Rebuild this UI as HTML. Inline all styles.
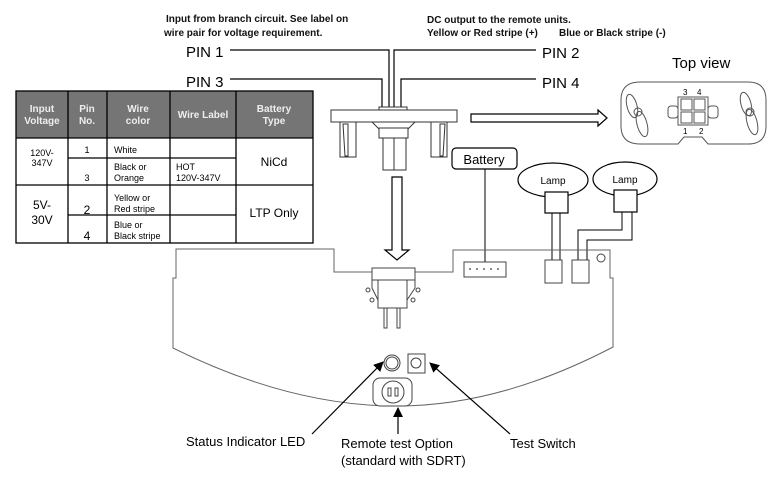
<!DOCTYPE html>
<html><head><meta charset="utf-8"><style>
html,body{margin:0;padding:0;background:#fff;}
svg{display:block;font-family:"Liberation Sans",Arial,sans-serif;}
</style></head><body>
<svg width="776" height="478" viewBox="0 0 776 478" xmlns="http://www.w3.org/2000/svg">
<defs><marker id="ah" markerWidth="10" markerHeight="10" refX="9" refY="5" orient="auto" markerUnits="userSpaceOnUse"><path d="M0,0 L10,5 L0,10 z" fill="#000"/></marker></defs>
<g font-size="10" font-weight="bold" fill="#111">
<text x="166" y="22">Input from branch circuit. See label on</text>
<text x="164" y="36">wire pair for voltage requirement.</text>
<text x="427" y="23">DC output to the remote units.</text>
<text x="427" y="36">Yellow or Red stripe (+)</text>
<text x="559" y="36">Blue or Black stripe (-)</text>
</g>
<g font-size="15" fill="#000">
<text x="186" y="57">PIN 1</text><text x="186" y="87">PIN 3</text>
<text x="542" y="58">PIN 2</text><text x="542" y="88">PIN 4</text>
<text x="672" y="68">Top view</text>
</g>
<g stroke="#000" fill="none" stroke-width="1.2">
<polyline points="230,50 389,50 389,110"/>
<polyline points="230,79 382,79 382,110"/>
<polyline points="536,50 394,50 394,110"/>
<polyline points="536,79 401,79 401,110"/>
</g>
<g stroke="#333" fill="#fff" stroke-width="1">
<rect x="379" y="107" width="28" height="4"/>
<rect x="331" y="110" width="126" height="12"/>
<polygon points="372,122 415,122 408,129 379,129"/>
<rect x="379" y="128" width="29" height="10"/>
<rect x="383" y="138" width="11" height="32"/><rect x="394" y="138" width="12" height="32"/>
<rect x="340" y="122" width="16" height="35"/><polygon points="343,124 348,124 348,156 345,156"/>
<rect x="431" y="122" width="16" height="35"/><polygon points="440,124 445,124 443,156 440,156"/>
</g>
<polygon points="471,114 598,114 598,110 607,118 598,126 598,122 471,122" fill="#fff" stroke="#000" stroke-width="1.2"/>
<polygon points="392,177 402,177 402,250 409,250 397,260 385,250 392,250" fill="#fff" stroke="#000" stroke-width="1.2"/>
<g>
<rect x="16" y="91" width="297" height="47" fill="#757575"/>
<g stroke="#000" stroke-width="1.3" fill="none">
<rect x="16" y="91" width="297" height="152"/>
<line x1="16" y1="138" x2="313" y2="138"/>
<line x1="16" y1="185" x2="313" y2="185"/>
<line x1="68" y1="158" x2="236" y2="158"/>
<line x1="68" y1="215" x2="236" y2="215"/>
<line x1="68" y1="91" x2="68" y2="243"/>
<line x1="107" y1="91" x2="107" y2="243"/>
<line x1="170" y1="91" x2="170" y2="243"/>
<line x1="236" y1="91" x2="236" y2="243"/>
</g>
<g font-size="10" font-weight="bold" fill="#eee" text-anchor="middle">
<text x="42" y="112">Input</text><text x="42" y="124">Voltage</text>
<text x="87" y="112">Pin</text><text x="87" y="124">No.</text>
<text x="138" y="112">Wire</text><text x="138" y="124">color</text>
<text x="203" y="118">Wire Label</text>
<text x="274" y="112">Battery</text><text x="274" y="124">Type</text>
</g>
<g font-size="9" fill="#000">
<text x="42" y="156" text-anchor="middle">120V-</text><text x="42" y="166" text-anchor="middle">347V</text>
<text x="87" y="153" text-anchor="middle">1</text><text x="87" y="181" text-anchor="middle">3</text>
<text x="114" y="153">White</text><text x="114" y="170">Black or</text><text x="114" y="181">Orange</text>
<text x="176" y="170">HOT</text><text x="176" y="181">120V-347V</text>
<text x="114" y="201">Yellow or</text><text x="114" y="212">Red stripe</text>
<text x="114" y="228">Blue or</text><text x="114" y="239">Black stripe</text>
</g>
<g font-size="12" fill="#000" text-anchor="middle">
<text x="274" y="166">NiCd</text><text x="274" y="217">LTP Only</text>
<text x="42" y="209">5V-</text><text x="42" y="224">30V</text>
<text x="87" y="214">2</text><text x="87" y="240">4</text>
</g>
</g>
<g stroke="#555" fill="none" stroke-width="1">
<path d="M640,82 L748,82 Q766,82 766,100 L766,126 Q766,144 748,144 L708,144 L702,137 L684,137 L678,144 L640,144 Q621,144 621,126 L621,100 Q621,82 640,82 Z"/>
<rect x="678" y="97" width="30" height="28"/>
<rect x="681" y="99" width="11" height="11"/><rect x="694" y="99" width="11" height="11"/>
<rect x="681" y="112" width="11" height="11"/><rect x="694" y="112" width="11" height="11"/>
<rect x="668" y="106" width="10" height="12" rx="3"/><rect x="708" y="106" width="10" height="12" rx="3"/>
<ellipse cx="632" cy="106" rx="5" ry="12" transform="rotate(-15 632 106)"/>
<ellipse cx="642" cy="124" rx="5" ry="13" transform="rotate(-15 642 124)"/>
<circle cx="638" cy="112" r="4"/>
<ellipse cx="746" cy="104" rx="5" ry="12" transform="rotate(-15 746 104)"/>
<ellipse cx="752" cy="122" rx="5" ry="13" transform="rotate(-15 752 122)"/>
<circle cx="750" cy="112" r="4"/>
</g>
<g font-size="8" fill="#000"><text x="683" y="95">3</text><text x="697" y="95">4</text><text x="683" y="134">1</text><text x="699" y="134">2</text></g>
<rect x="452" y="148" width="65" height="21" rx="4" fill="#fff" stroke="#000" stroke-width="1.2"/>
<text x="484" y="164" font-size="13" text-anchor="middle">Battery</text>
<line x1="485" y1="169" x2="485" y2="263" stroke="#000"/>
<ellipse cx="553" cy="180" rx="35" ry="17" fill="#fff" stroke="#000" stroke-width="1.2"/>
<ellipse cx="625" cy="179" rx="32" ry="17" fill="#fff" stroke="#000" stroke-width="1.2"/>
<text x="553" y="184" font-size="10" text-anchor="middle">Lamp</text>
<text x="625" y="183" font-size="10" text-anchor="middle">Lamp</text>
<rect x="545" y="192" width="23" height="21" fill="#fff" stroke="#000" stroke-width="1.2"/>
<rect x="614" y="190" width="23" height="22" fill="#fff" stroke="#000" stroke-width="1.2"/>
<g stroke="#000" fill="none" stroke-width="1">
<line x1="552" y1="213" x2="552" y2="262"/><line x1="560" y1="213" x2="560" y2="262"/>
<polyline points="622,212 622,230 578,230 578,262"/>
<polyline points="632,212 632,240 587,240 587,262"/>
</g>
<path d="M176,249 L334,249 L334,272 L453,272 L453,250 L610,250 L610,278 L613,278 L613,347 Q500,406 397,406 Q290,406 173,348 L173,278 L176,278 Z" fill="none" stroke="#666" stroke-width="1"/>
<g stroke="#444" fill="#fff" stroke-width="1">
<rect x="464" y="262" width="42" height="15"/>
<rect x="545" y="260" width="17" height="23"/><rect x="572" y="260" width="17" height="23"/>
<circle cx="601" cy="258" r="4"/>
<rect x="372" y="268" width="43" height="12"/>
<rect x="378" y="280" width="29" height="28"/>
<polygon points="372,280 378,280 378,300 372,288"/><polygon points="407,280 415,280 415,288 407,300"/>
<rect x="384" y="308" width="3" height="20"/><rect x="397" y="308" width="3" height="20"/>
<circle cx="368" cy="290" r="2"/><circle cx="372" cy="300" r="2"/><circle cx="418" cy="290" r="2"/><circle cx="413" cy="300" r="2"/>
<circle cx="392" cy="363" r="8"/><circle cx="392" cy="363" r="6"/>
<rect x="408" y="354" width="17" height="19"/><circle cx="416" cy="363" r="5"/>
<rect x="373" y="378" width="39" height="28" rx="7"/>
<circle cx="393" cy="392" r="11"/>
<rect x="388" y="388" width="3" height="8"/><rect x="395" y="388" width="3" height="8"/>
</g>
<g fill="#666"><circle cx="470" cy="269" r="1"/><circle cx="477" cy="269" r="1"/><circle cx="484" cy="269" r="1"/><circle cx="491" cy="269" r="1"/><circle cx="498" cy="269" r="1"/></g>
<g stroke="#000" stroke-width="1.2" marker-end="url(#ah)">
<line x1="312" y1="434" x2="383" y2="362"/>
<line x1="398" y1="434" x2="398" y2="408"/>
<line x1="510" y1="434" x2="430" y2="363"/>
</g>
<g font-size="13" fill="#000">
<text x="186" y="446">Status Indicator LED</text>
<text x="341" y="448">Remote test Option</text>
<text x="341" y="465">(standard with SDRT)</text>
<text x="510" y="448">Test Switch</text>
</g>
</svg>
</body></html>
